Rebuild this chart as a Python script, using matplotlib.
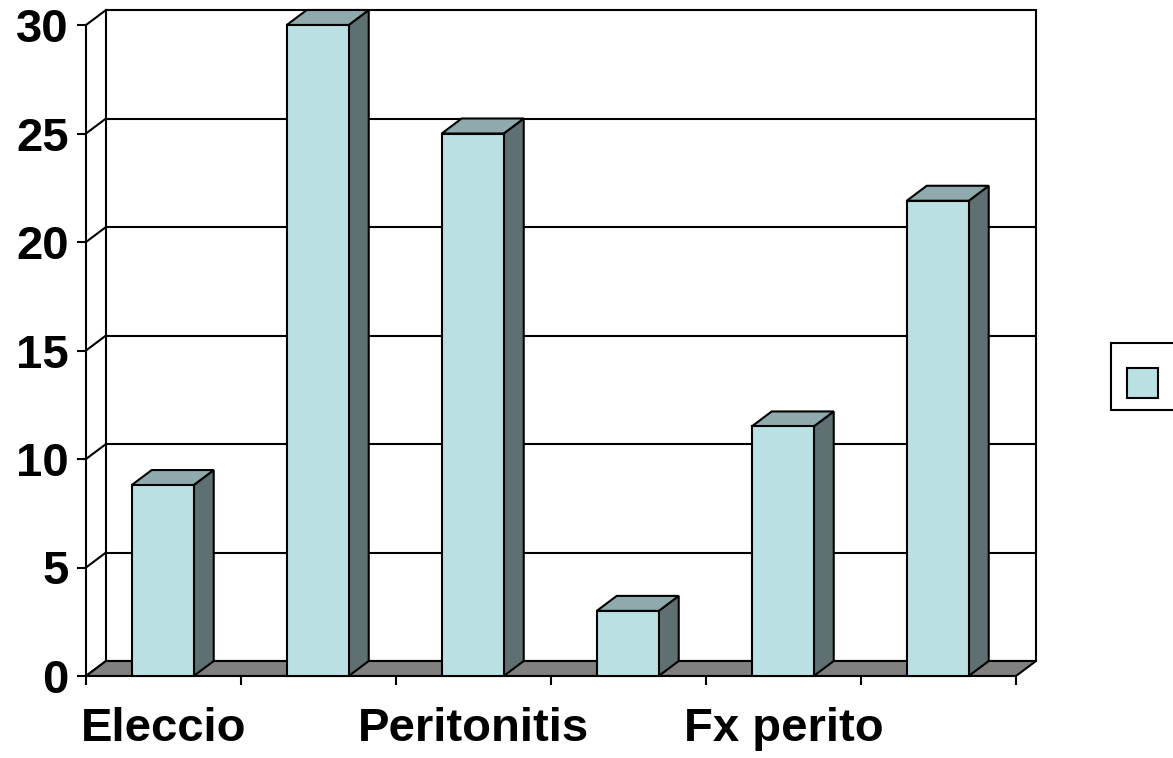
import matplotlib.pyplot as plt
from matplotlib.patches import Polygon, Rectangle

# datos
categorias = ["Eleccio", "", "Peritonitis", "", "Fx perito", ""]
valores = [8.8, 30, 25, 3, 11.5, 21.9]
marcas_y = [0, 5, 10, 15, 20, 25, 30]

frente = "#BBE0E3"
techo = "#8FAAAD"
lado = "#5F7072"
piso = "#808080"

def main():
	W, H = 1173, 758
	fig = plt.figure(figsize=(W / 100, H / 100), dpi=100)
	plt.rcParams['font.family'] = ['Liberation Sans', 'DejaVu Sans']

	# plano frontal en pixeles: x 86..1016, y 676 (0) .. 25 (30)
	escala = (676 - 25) / 30.0
	px_cat = (1016 - 86) / len(valores)
	dx = 20 / px_cat
	dy = 15 / escala
	ytop = 30 + dy
	x_max = len(valores) + dx

	ax = fig.add_axes([86 / W, (H - 676) / H, (x_max * px_cat) / W, (ytop * escala) / H])
	ax.set_xlim(0, x_max)
	ax.set_ylim(0, ytop)
	ax.set_facecolor("none")
	for s in ("top", "right"):
		ax.spines[s].set_visible(False)
	ax.spines["left"].set_bounds(0, 30)
	ax.spines["bottom"].set_bounds(0, len(valores))
	ax.spines["left"].set_linewidth(1.5)
	ax.spines["bottom"].set_linewidth(1.5)

	# pared del fondo con lineas de division
	ax.add_patch(Rectangle((dx, dy), len(valores), 30, facecolor="white",
		edgecolor="black", lw=1.5, zorder=0, clip_on=False))
	for v in marcas_y[1:-1]:
		ax.plot([dx, len(valores) + dx], [v + dy, v + dy], color="black", lw=1.5, zorder=1)
	# pared izquierda (solo lineas)
	for v in marcas_y:
		ax.plot([0, dx], [v, v + dy], color="black", lw=1.5, zorder=1, clip_on=False)

	# piso
	ax.add_patch(Polygon([(0, 0), (len(valores), 0), (len(valores) + dx, dy), (dx, dy)],
		closed=True, facecolor=piso, edgecolor="black", lw=1.5, zorder=2))

	# barras 3D
	ancho = 0.4
	desp = 0.295
	for i, v in enumerate(valores):
		x0 = i + desp
		x1 = x0 + ancho
		ax.add_patch(Polygon([(x1, 0), (x1 + dx, dy), (x1 + dx, v + dy), (x1, v)],
			closed=True, facecolor=lado, edgecolor="black", lw=1.5, zorder=3, clip_on=False))
		ax.add_patch(Polygon([(x0, v), (x1, v), (x1 + dx, v + dy), (x0 + dx, v + dy)],
			closed=True, facecolor=techo, edgecolor="black", lw=1.5, zorder=3, clip_on=False))
		ax.add_patch(Rectangle((x0, 0), ancho, v, facecolor=frente,
			edgecolor="black", lw=1.5, zorder=4, clip_on=False))

	# ejes
	ax.set_yticks(marcas_y)
	ax.set_yticklabels([str(m) for m in marcas_y], fontsize=34, fontweight="bold")
	ax.tick_params(axis="y", length=6.5, width=1.5, pad=6)
	ax.set_xticks(range(len(valores) + 1))
	ax.set_xticklabels([])
	ax.set_xticks([i + 0.5 for i in range(len(valores))], minor=True)
	ax.set_xticklabels(categorias, minor=True, fontsize=34, fontweight="bold")
	ax.tick_params(axis="x", which="major", length=6.5, width=1.5)
	ax.tick_params(axis="x", which="minor", length=0, pad=22)

	# leyenda (recortada en el borde)
	fig.patches.append(Rectangle((1111 / W, 1 - 410 / H), 80 / W, 67 / H,
		transform=fig.transFigure, facecolor="white", edgecolor="black", lw=1.5))
	fig.patches.append(Rectangle((1127 / W, 1 - 398 / H), 31 / W, 30 / H,
		transform=fig.transFigure, facecolor=frente, edgecolor="black", lw=1.5))

	fig.savefig("out.png", dpi=100)

if __name__ == '__main__':
	main()
